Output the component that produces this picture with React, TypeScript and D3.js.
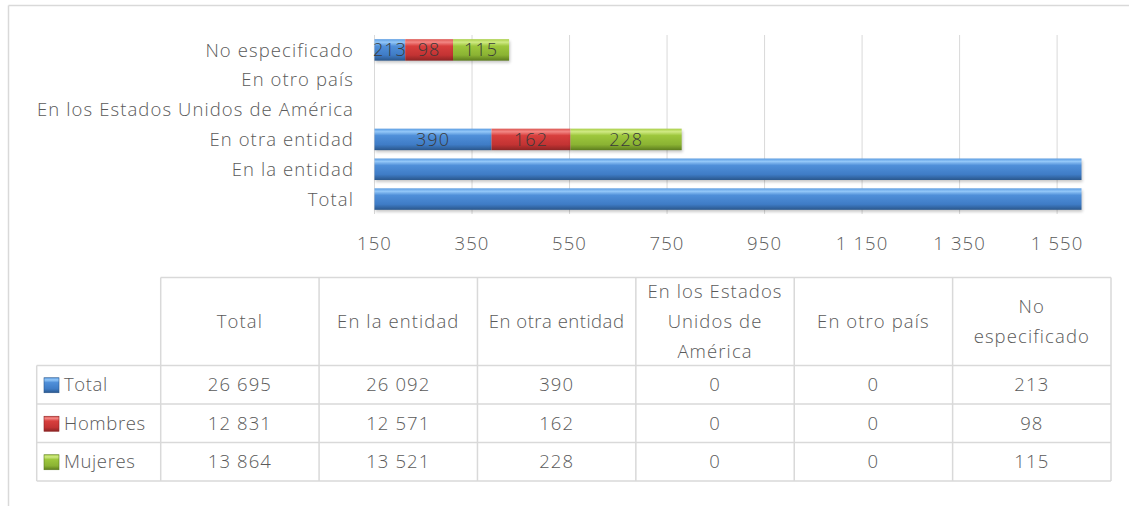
import React from 'react';
import * as d3 from 'd3';

// categories of the bar chart, bottom to top as Excel draws them
const categories = [
    'Total',
    'En la entidad',
    'En otra entidad',
    'En los Estados Unidos de América',
    'En otro país',
    'No especificado',
];
const seriesNames = ['Total', 'Hombres', 'Mujeres'];
const totalValues = [26695, 26092, 390, 0, 0, 213];
const hombresValues = [12831, 12571, 162, 0, 0, 98];
const mujeresValues = [13864, 13521, 228, 0, 0, 115];

const headerLines = [
    ['Total'],
    ['En la entidad'],
    ['En otra entidad'],
    ['En los Estados', 'Unidos de', 'América'],
    ['En otro país'],
    ['No', 'especificado'],
];
const xTicks = [150, 350, 550, 750, 950, 1150, 1350, 1550];
const xMin = 150;
const xMax = 1600;

const W = 1129;
const H = 506;
const FONT = '"Open Sans", "DejaVu Sans", sans-serif';
const TEXT = '#5a5a5a';
const GRID = '#d9d9d9';
const FS = 18.5;
const LS = 1.1;

const gradients = [
    { id: 'gBlue', stops: ['#5b9ce2', '#93c7f8', '#4f8fd9', '#3f7cc6', '#2a578c'] },
    { id: 'gRed', stops: ['#dc5651', '#f38784', '#d83f3d', '#c33333', '#8c2424'] },
    { id: 'gGreen', stops: ['#a9cf47', '#d0ea84', '#9dc73c', '#8bb333', '#5d7d1e'] },
];
const stopOffsets = [0, 0.14, 0.32, 0.74, 1];

const fmt = d3.formatLocale({ decimal: '.', thousands: ' ', grouping: [3], currency: ['', ''] }).format(',');

const App: React.FC = () => {
    const rows = categories.map((c, i) => ({
        category: c,
        Total: totalValues[i],
        Hombres: hombresValues[i],
        Mujeres: mujeresValues[i],
    }));
    const stacked = d3.stack<any>().keys(seriesNames)(rows);

    const x = d3.scaleLinear().domain([xMin, xMax]).range([374.5, 1081.5]);
    const y = d3.scaleBand<string>()
        .domain([...categories].reverse())
        .range([35, 214])
        .paddingInner(0.28)
        .paddingOuter(0.14);

    // data table under the chart
    const colX = d3.scaleBand<string>().domain(categories).range([160.7, 1111]);
    const rowY = d3.scaleBand<string>().domain(seriesNames).range([365.5, 481]);
    const tableTop = 277.5;
    const tableLeft = 36.7;
    const seriesValues = [totalValues, hombresValues, mujeresValues];

    const bars: React.ReactNode[] = [];
    const labels: React.ReactNode[] = [];
    stacked.forEach((layer, si) => {
        layer.forEach((d, ci) => {
            const cat = categories[ci];
            const lo = Math.max(d[0], xMin);
            const hi = Math.min(d[1], xMax);
            if (hi <= lo) return;
            const bx = x(lo);
            const bw = x(hi) - x(lo);
            const by = y(cat)!;
            bars.push(
                <g key={`b${si}-${ci}`}>
                    <rect x={bx + 1} y={by + 2} width={bw} height={y.bandwidth()} fill="#000" opacity={0.22} filter="url(#shadow)" />
                    <rect x={bx} y={by} width={bw} height={y.bandwidth()} fill={`url(#${gradients[si].id})`} />
                </g>
            );
            const v = seriesValues[si][ci];
            if (v > 0 && d[1] <= xMax) {
                labels.push(
                    <text key={`l${si}-${ci}`} x={x((lo + hi) / 2)} y={by + y.bandwidth() / 2} dy="0.36em"
                        textAnchor="middle" fontSize={18} fontWeight={300} letterSpacing={1} fill="#3a3a3a">
                        {fmt(v)}
                    </text>
                );
            }
        });
    });

    return (
        <div style={{ position: 'absolute', left: 0, top: 0 }}>
            <svg width={W} height={H} style={{ display: 'block', fontFamily: FONT }}>
                <defs>
                    {gradients.map(g => (
                        <linearGradient key={g.id} id={g.id} x1="0" y1="0" x2="0" y2="1">
                            {g.stops.map((c, i) => <stop key={i} offset={stopOffsets[i]} stopColor={c} />)}
                        </linearGradient>
                    ))}
                    <filter id="shadow" x="-5%" y="-30%" width="110%" height="160%">
                        <feGaussianBlur stdDeviation="1.5" />
                    </filter>
                </defs>
                <rect width={W} height={H} fill="#fff" />
                {/* outer chart frame */}
                <line x1={8.5} y1={5.5} x2={W} y2={5.5} stroke={GRID} strokeWidth={1.5} />
                <line x1={8.5} y1={5.5} x2={8.5} y2={H} stroke={GRID} strokeWidth={1.5} />

                {/* gridlines */}
                {xTicks.map(t => (
                    <line key={t} x1={x(t)} x2={x(t)} y1={35} y2={214} stroke={GRID} strokeWidth={1} />
                ))}

                {bars}
                {labels}

                <g fontSize={FS} fontWeight={300} letterSpacing={LS} fill={TEXT}>
                    {/* category labels */}
                    {categories.map(c => (
                        <text key={c} x={354} y={y(c)! + y.bandwidth() / 2} dy="0.36em" textAnchor="end">{c}</text>
                    ))}

                    {/* x axis labels */}
                    {xTicks.map(t => (
                        <text key={t} x={x(t)} y={243} dy="0.36em" textAnchor="middle">{fmt(t)}</text>
                    ))}
                </g>

                {/* data table */}
                <g stroke={GRID} strokeWidth={1.5} fill="none">
                    <line x1={160.7} x2={1111} y1={tableTop} y2={tableTop} />
                    {seriesNames.map(s => (
                        <line key={s} x1={tableLeft} x2={1111} y1={rowY(s)!} y2={rowY(s)!} />
                    ))}
                    <line x1={tableLeft} x2={1111} y1={481} y2={481} />
                    <line x1={tableLeft} x2={tableLeft} y1={365.5} y2={481} />
                    {categories.map(c => (
                        <line key={c} x1={colX(c)!} x2={colX(c)!} y1={tableTop} y2={481} />
                    ))}
                    <line x1={1111} x2={1111} y1={tableTop} y2={481} />
                </g>
                <g fontSize={FS} fontWeight={300} letterSpacing={LS} fill={TEXT}>
                    {categories.map((c, ci) => {
                        const lines = headerLines[ci];
                        const cx = colX(c)! + colX.bandwidth() / 2;
                        const mid = (tableTop + 365.5) / 2;
                        const lh = 30;
                        return (
                            <text key={c} textAnchor="middle" letterSpacing={c === 'En otra entidad' ? 0.5 : LS}>
                                {lines.map((l, li) => (
                                    <tspan key={li} x={cx} y={mid + (li - (lines.length - 1) / 2) * lh} dy="0.36em">{l}</tspan>
                                ))}
                            </text>
                        );
                    })}
                    {seriesNames.map((s, si) => {
                        const cy = rowY(s)! + rowY.bandwidth() / 2;
                        return (
                            <g key={s}>
                                <rect x={44} y={cy - 7} width={15} height={15} fill={`url(#${gradients[si].id})`}
                                    stroke={gradients[si].stops[4]} strokeWidth={0.6} />
                                <text x={64} y={cy} dy="0.36em" letterSpacing={0.6}>{s}</text>
                                {categories.map((c, ci) => (
                                    <text key={c} x={colX(c)! + colX.bandwidth() / 2} y={cy} dy="0.36em" textAnchor="middle">
                                        {fmt(seriesValues[si][ci])}
                                    </text>
                                ))}
                            </g>
                        );
                    })}
                </g>
            </svg>
        </div>
    );
};

export default App;
